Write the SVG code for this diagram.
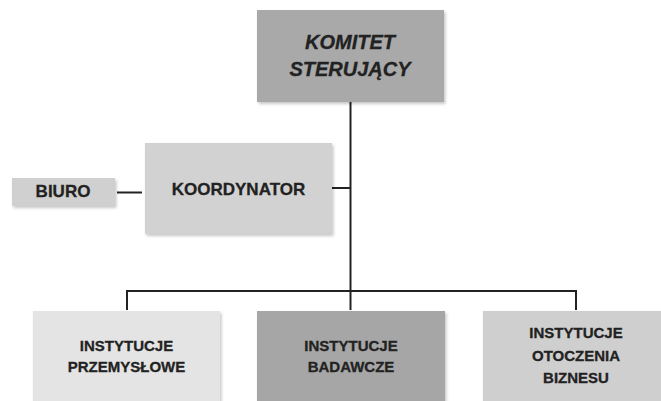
<svg xmlns="http://www.w3.org/2000/svg" width="661" height="401" viewBox="0 0 661 401">
<defs>
<filter id="sh" x="-10%" y="-10%" width="125%" height="130%">
<feDropShadow dx="1.5" dy="2" stdDeviation="1.5" flood-color="#000" flood-opacity="0.22"/>
</filter>
<style>
.box{filter:url(#sh);}
.t{font-family:"Liberation Sans",Arial,sans-serif;font-weight:bold;fill:#222;stroke:#222;stroke-width:0.3;text-anchor:middle;}
.ti{font-size:15px;}
.c{stroke:#222;stroke-width:2;fill:none;}
</style>
</defs>
<rect width="661" height="401" fill="#fff"/>
<g id="connectors">
<line class="c" x1="350.5" y1="102" x2="350.5" y2="291"/>
<line class="c" x1="332" y1="188" x2="351" y2="188"/>
<line class="c" x1="117" y1="192.5" x2="142" y2="192.5"/>
<polyline class="c" points="127,310 127,291 576,291 576,310"/>
<line class="c" x1="350.5" y1="291" x2="350.5" y2="310"/>
</g>
<g id="komitet">
<rect class="box" x="257" y="10" width="187" height="92" fill="#a9a9a9"/>
<text class="t" x="350" y="49" font-size="20" font-style="italic">KOMITET</text>
<text class="t" x="350" y="76" font-size="20" font-style="italic">STERUJĄCY</text>
</g>
<g id="koordynator">
<rect class="box" x="145" y="143" width="187" height="91" fill="#d2d2d2"/>
<text class="t" x="238.5" y="195" font-size="17">KOORDYNATOR</text>
</g>
<g id="biuro">
<rect class="box" x="12" y="178" width="103" height="28" fill="#d0d0d0"/>
<text class="t" x="63" y="197" font-size="17">BIURO</text>
</g>
<g id="przemyslowe">
<rect class="box" x="33" y="311" width="187" height="100" fill="#e4e4e4"/>
<text class="t ti" x="126.5" y="351">INSTYTUCJE</text>
<text class="t ti" x="126.5" y="372">PRZEMYSŁOWE</text>
</g>
<g id="badawcze">
<rect class="box" x="257" y="311" width="188" height="100" fill="#a6a6a6"/>
<text class="t ti" x="351" y="351">INSTYTUCJE</text>
<text class="t ti" x="351" y="372">BADAWCZE</text>
</g>
<g id="otoczenia">
<rect class="box" x="483" y="311" width="188" height="100" fill="#cfcfcf"/>
<text class="t ti" x="576" y="338">INSTYTUCJE</text>
<text class="t ti" x="576" y="361">OTOCZENIA</text>
<text class="t ti" x="576" y="383">BIZNESU</text>
</g>
</svg>
